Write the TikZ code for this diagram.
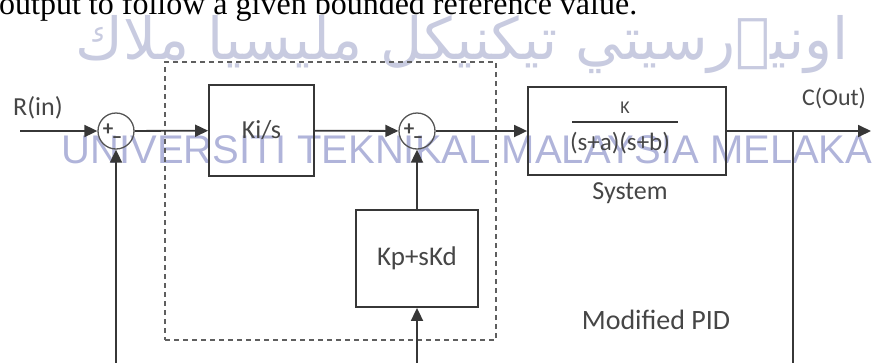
\documentclass[tikz,border=0pt]{standalone}
\usepackage{fontspec}
\setmainfont{Carlito}
\newfontfamily\bodyserif{Liberation Serif}
\newfontfamily\wmfont{Liberation Sans}
\newfontfamily\jawifont[Script=Arabic]{DejaVu Sans}
\TeXXeTstate=1
\usetikzlibrary{arrows.meta,positioning,calc}
\definecolor{linegray}{RGB}{55,55,55}
\definecolor{txtgray}{RGB}{70,70,70}
\definecolor{wmblue}{RGB}{150,155,205}
\definecolor{wmjawi}{RGB}{200,203,224}

\begin{document}
\begin{tikzpicture}[x=1pt,y=-1pt,
  blk/.style={draw=linegray, line width=1.8pt, inner sep=0pt},
  sumpt/.style={circle, draw=linegray!85, line width=1.3pt, minimum size=36pt, inner sep=0pt},
  sig/.style={draw=linegray, line width=1.8pt, -{Triangle[length=13pt,width=12pt]}},
  lbl/.style={font=\fontsize{26}{28}\selectfont, text=txtgray, inner sep=0pt},
  sgn/.style={font=\fontsize{21}{22}\selectfont\bfseries, text=txtgray, inner sep=0pt},
  pidframe/.style={draw=linegray!80, line width=1.2pt, dash pattern=on 5pt off 4pt}]
  \useasboundingbox (0,0) rectangle (872,362);
  % page text and watermark
  \node[anchor=base west, inner sep=0pt, font=\bodyserif\fontsize{32}{34}\selectfont] (pagetxt) at (-1,14)
     {output to follow a given bounded reference value.};
  \node[text=wmjawi, inner sep=0pt, font=\jawifont\fontsize{58}{60}\selectfont] (wmark1) at (462,45)
     {\beginR اونيۏرسيتي تيكنيكل مليسيا ملاك\endR};
  \node[text=wmblue, opacity=0.75, inner sep=0pt, font=\wmfont\fontsize{40}{42}\selectfont] (wmark2) at (467,150)
     {UNIVERSITI TEKNIKAL MALAYSIA MELAKA};

  % controller frame
  \node[pidframe, minimum width=331pt, minimum height=278pt, inner sep=0pt] (pid) at (330.5,201) {};

  % blocks
  \node[sumpt] (sum1) at (116,131) {};
  \node[sumpt] (sum2) at (417,131) {};
  \node[blk, minimum width=105pt, minimum height=91pt] (ki) at (261.5,130.5) {};
  \node[lbl] at (ki) {Ki/s};
  \node[blk, minimum width=198pt, minimum height=88pt] (plant) at (627,131) {};
  \node[blk, minimum width=122pt, minimum height=97pt] (kpd) at (417,258.5) {};
  \node[lbl, font=\fontsize{27}{29}\selectfont] at (kpd) {Kp+sKd};

  \node[lbl, font=\fontsize{18}{20}\selectfont] (num) at (625,108) {K};
  \node[lbl, font=\fontsize{25}{27}\selectfont] (den) at (620,143) {(s+a)(s+b)};
  \draw[linegray, line width=1.5pt] (572,122) -- (678,122);
  \node[lbl] (syslbl) at (630,193) {System};
  \node[lbl, font=\fontsize{28}{30}\selectfont] (pidlbl) at (656,320) {Modified PID};

  \node[sgn] at ($(sum1)+(-8,-1)$) {+};
  \node[sgn] at ($(sum1)+(1,9)$) {--};
  \node[sgn] at ($(sum2)+(-8,-1)$) {+};
  \node[sgn] at ($(sum2)+(1,9)$) {--};

  % signals
  \coordinate (rin) at (20,131);
  \coordinate (cout) at (871,131);
  \coordinate (tap) at (793,131);
  \coordinate (fbR) at (793,363);
  \coordinate (fbA) at (116,363);
  \coordinate (fbB) at (417,363);
  \node[lbl] (rlbl) at (38,108) {R(in)};
  \node[lbl, font=\fontsize{24}{26}\selectfont] (clbl) at (834,98) {C(Out)};

  \draw[sig] (rin) -- (sum1);
  \draw[sig] (sum1) -- (ki);
  \draw[sig] (ki) -- (sum2);
  \draw[sig] (sum2) -- (plant);
  \draw[sig] (plant) -- (cout);
  \draw[linegray, line width=1.8pt] (tap) -- (fbR);
  \draw[sig] (fbA) -- (sum1);
  \draw[sig] (fbB) -- (kpd);
  \draw[sig] (kpd) -- (sum2);
\end{tikzpicture}
\end{document}
